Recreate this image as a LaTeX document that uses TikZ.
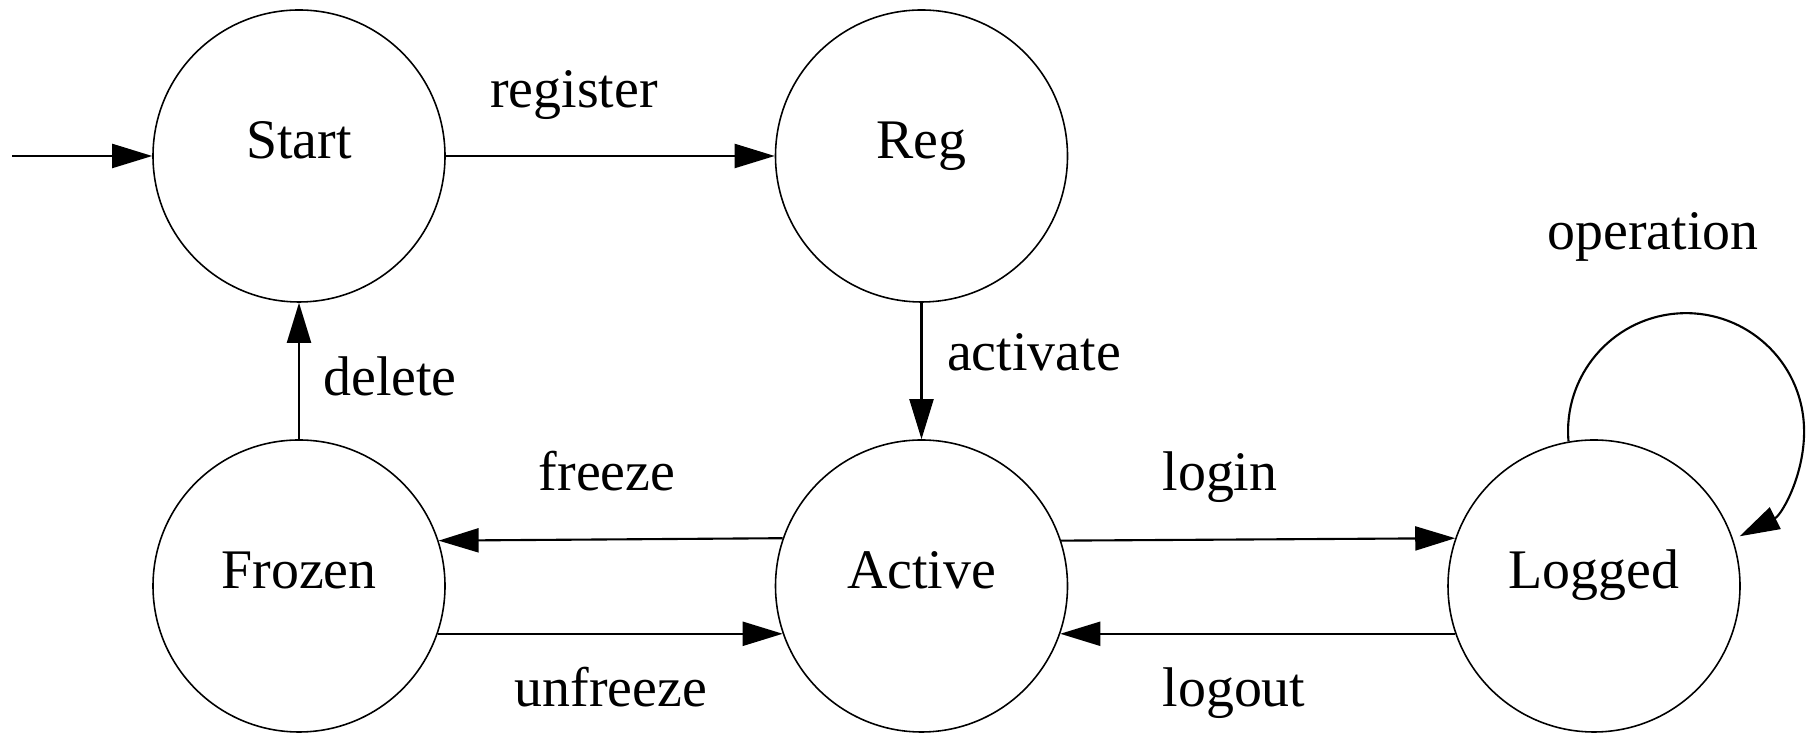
\documentclass[tikz,border=0pt]{standalone}
\usepackage{fontspec}
\setmainfont{Liberation Serif}
\usetikzlibrary{arrows.meta}
\begin{document}
\begin{tikzpicture}[x=0.1mm,y=0.1mm,
  state/.style={circle, draw, line width=0.45pt, minimum size=29.2mm, inner sep=0pt,
                text height=2.6mm, text depth=2mm, font=\fontsize{15.9}{19}\selectfont},
  trans/.style={line width=0.6pt, -{Triangle[length=4mm,width=2.4mm]}},
  lbl/.style={anchor=base, inner sep=0pt, font=\fontsize{15.9}{19}\selectfont}]
  \useasboundingbox (0,0) rectangle (1814,733);

  % states
  \node[state] (Start)  at (299,577)  {Start};
  \node[state] (Reg)    at (921.5,577) {Reg};
  \node[state] (Frozen) at (299,147)  {Frozen};
  \node[state] (Active) at (921.5,147) {Active};
  \node[state] (Logged) at (1594,147) {Logged};

  % initial arrow
  \coordinate (init) at (12,577);
  \draw[trans] (init) -- (Start.west);

  % transitions
  \draw[trans] (Start.east) -- (Reg.west);
  \draw[trans] (Reg.south) -- (Active.north);
  \draw[trans] (Frozen.north) -- (Start.south);
  \draw[trans] (Active.161.2) -- (Frozen.18.8);
  \draw[trans] (Frozen.-19.6) -- (Active.199.6);
  \draw[trans] (Active.18.8) -- (Logged.161.2);
  \draw[trans] (Logged.199.6) -- (Active.-19.6);
  \draw[trans] (Logged.100) arc[start angle=185, end angle=-63, radius=118];

  % transition labels
  \node[lbl] (lregister)  at (574,625)  {register};
  \node[lbl] (lactivate)  at (1034,362) {activate};
  \node[lbl] (ldelete)    at (390,337)  {delete};
  \node[lbl] (lfreeze)    at (607,242)  {freeze};
  \node[lbl] (lunfreeze)  at (611,26)   {unfreeze};
  \node[lbl] (llogin)     at (1220,242) {login};
  \node[lbl] (llogout)    at (1234,26)  {logout};
  \node[lbl] (loperation) at (1653,483) {operation};
\end{tikzpicture}
\end{document}
